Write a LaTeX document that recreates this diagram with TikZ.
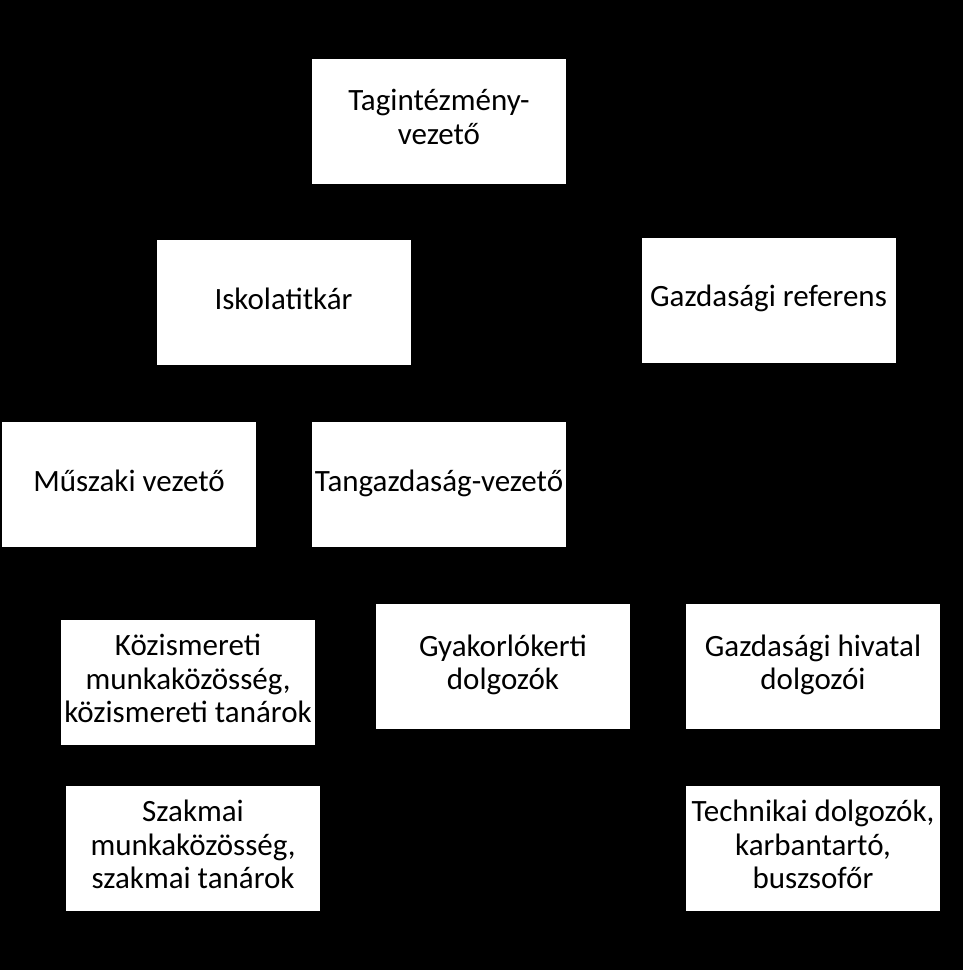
\documentclass[tikz,border=0pt]{standalone}
\usepackage{fontspec}
\setmainfont{Carlito}
\usepackage{tikz}
\newcommand{\unitstrut}{\rule[-8pt]{0pt}{29pt}}

\begin{document}
\begin{tikzpicture}[x=1pt,y=-1pt,
unit/.style={rectangle, fill=white, minimum width=254pt, minimum height=125pt,
inner sep=0pt, align=center, font=\fontsize{31}{33.5}\selectfont,
execute at begin node=\unitstrut, execute at end node=\unitstrut}]
% background
\fill[black] (0,0) rectangle (963,970);
% first level
\node[unit] (TV) at (439,121) {Tagintézmény-\\vezető};
\node[unit] (IT) at (283.5,302.5) {Iskolatitkár};
\node[unit] (GR) at (768.5,300) {Gazdasági referens};
\node[unit] (MV) at (129,484.5) {Műszaki vezető};
\node[unit] (TGV) at (439,484.5) {Tangazdaság-vezető};
% lower units
\node[unit] (KM) at (188,682.5) {Közismereti\\munkaközösség,\\közismereti tanárok};
\node[unit] (GK) at (503,666) {Gyakorlókerti\\dolgozók};
\node[unit] (GH) at (813,666) {Gazdasági hivatal\\dolgozói};
\node[unit] (SZ) at (193,848.5) {Szakmai\\munkaközösség,\\szakmai tanárok};
\node[unit] (TD) at (813,848.5) {Technikai dolgozók,\\karbantartó,\\buszsofőr};
\end{tikzpicture}
\end{document}
